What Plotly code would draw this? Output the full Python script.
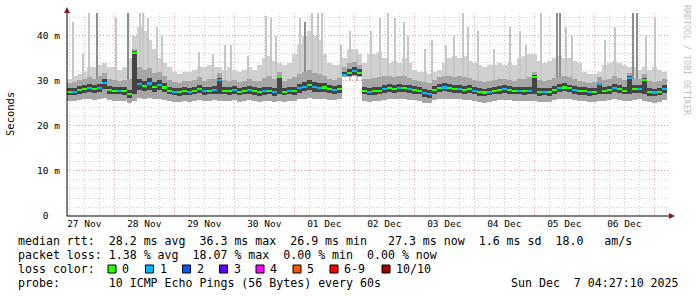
import plotly.graph_objects as go
from datetime import datetime, timedelta

# ---------------- data ----------------
START = datetime(2025, 11, 27, 5, 5)
END = datetime(2025, 12, 7, 5, 53)
STEP_H = 2  # hours per column

median = [27.6, 27.6, 28.1, 28.2, 28.5, 28.2, 28.4, 29.6, 28.0, 27.9,
          27.9, 27.8, 27.2, 36.3, 29.3, 29.0, 29.5, 28.8, 29.2, 28.6,
          27.9, 27.7, 27.6, 27.8, 27.7, 27.9, 28.3, 27.8, 27.9, 28.0,
          30.3, 27.9, 27.8, 28.0, 27.7, 27.9, 28.1, 27.8, 27.6, 27.8,
          27.9, 27.6, 30.9, 27.7, 27.9, 27.8, 28.4, 28.8, 29.2, 28.7,
          28.5, 28.6, 28.2, 28.1, 28.3, 31.3, 31.8, 32.2, 31.9, 27.9,
          27.7, 27.8, 27.9, 28.2, 28.4, 28.3, 28.5, 28.4, 28.2, 28.0,
          27.9, 27.4, 27.1, 28.0, 28.5, 28.6, 28.4, 28.2, 28.3, 28.1,
          28.2, 27.9, 27.6, 27.5, 27.7, 27.9, 28.1, 28.2, 28.0, 27.9,
          27.9, 27.8, 27.9, 31.0, 27.6, 27.7, 27.6, 28.0, 28.5, 28.6,
          28.4, 28.0, 27.8, 27.8, 27.6, 27.7, 29.3, 27.9, 28.0, 28.5,
          28.2, 27.9, 30.8, 28.2, 28.3, 30.3, 27.6, 27.5, 27.7, 28.3]

ping_max = [30.5, 31, 31.5, 32, 33, 33, 33.5, 34, 33, 33,
            32.5, 33, 35, 40, 42, 41, 39, 37, 35, 34,
            33, 32, 31.5, 32, 32, 32.5, 33, 33, 33.5, 33,
            33, 32.5, 33, 32.5, 32, 32.5, 33, 32.5, 33.5, 35,
            35.5, 34.5, 34, 33.5, 34, 36, 38, 40, 41, 40,
            39, 36, 34, 33.5, 33.5, 35, 37, 37, 36, 34,
            36, 36, 36.5, 35, 34, 34.5, 34, 35, 34, 32.5,
            32, 32, 31.5, 32, 32.5, 34, 35, 35.5, 35, 35.5,
            34.5, 34, 33.5, 33, 33.5, 33.5, 34, 33.5, 34, 33.5,
            35, 35.5, 36, 36, 34.5, 34, 34.5, 35, 35.5, 35,
            35, 34.5, 34, 32, 31.5, 31.5, 32, 33.5, 34, 34.5,
            34, 33.5, 33, 33, 32.5, 33, 32.5, 33, 32.5, 32]

ping_hi = [29.5, 29.8, 30.2, 30.4, 30.8, 30.5, 31.0, 31.8, 30.5, 30.2,
           30.0, 30.3, 30.5, 37.0, 33.0, 32.5, 32.8, 31.8, 32.0, 31.2,
           30.2, 29.8, 29.6, 30.0, 29.9, 30.3, 30.8, 30.0, 30.4, 30.5,
           31.8, 30.2, 30.0, 30.3, 29.8, 30.1, 30.5, 30.0, 30.0, 30.6,
           31.0, 30.4, 32.0, 30.0, 30.4, 30.8, 31.5, 32.0, 32.5, 31.8,
           31.5, 31.0, 30.5, 30.3, 30.6, 33.0, 34.0, 34.2, 33.5, 30.5,
           30.4, 30.6, 30.8, 31.0, 31.0, 30.8, 31.2, 31.0, 30.6, 30.2,
           30.0, 29.7, 29.5, 30.2, 30.8, 31.2, 31.0, 30.8, 31.0, 30.8,
           30.6, 30.3, 29.9, 29.8, 30.0, 30.2, 30.5, 30.4, 30.3, 30.1,
           30.4, 30.5, 30.8, 32.0, 30.2, 30.0, 30.2, 30.6, 31.0, 31.0,
           30.8, 30.4, 30.1, 29.8, 29.6, 29.8, 30.8, 30.3, 30.5, 31.0,
           30.6, 30.2, 31.8, 30.5, 30.5, 31.5, 29.9, 29.8, 30.0, 30.4]

ping_q_hi = [28.4, 28.5, 28.9, 29.0, 29.4, 29.1, 29.3, 30.4, 28.9, 28.7,
             28.7, 28.6, 28.0, 36.6, 30.5, 30.1, 30.6, 29.8, 30.2, 29.5,
             28.7, 28.5, 28.4, 28.6, 28.5, 28.7, 29.2, 28.6, 28.7, 28.8,
             30.6, 28.7, 28.6, 28.8, 28.5, 28.7, 28.9, 28.6, 28.4, 28.6,
             28.7, 28.4, 31.2, 28.5, 28.7, 28.7, 29.4, 29.8, 30.2, 29.7,
             29.5, 29.5, 29.0, 28.9, 29.1, 32.1, 32.6, 33.0, 32.7, 28.7,
             28.5, 28.6, 28.7, 29.0, 29.3, 29.1, 29.3, 29.2, 29.0, 28.8,
             28.7, 28.2, 27.9, 28.8, 29.3, 29.5, 29.3, 29.0, 29.2, 28.9,
             29.0, 28.7, 28.4, 28.3, 28.5, 28.7, 28.9, 29.0, 28.8, 28.7,
             28.7, 28.6, 28.7, 31.3, 28.4, 28.5, 28.4, 28.8, 29.4, 29.5,
             29.2, 28.8, 28.6, 28.6, 28.4, 28.5, 29.6, 28.7, 28.8, 29.3,
             29.0, 28.7, 31.1, 29.0, 29.1, 30.6, 28.4, 28.3, 28.5, 29.1]

ping_q_lo = [26.8, 26.8, 27.2, 27.3, 27.6, 27.3, 27.5, 28.2, 27.1, 27.0,
             27.0, 26.9, 26.3, 27.0, 28.0, 27.8, 28.1, 27.6, 27.9, 27.5,
             27.0, 26.8, 26.7, 26.9, 26.8, 27.0, 27.3, 26.9, 27.0, 27.1,
             27.1, 27.0, 26.9, 27.1, 26.8, 27.0, 27.2, 26.9, 26.7, 26.9,
             27.0, 26.7, 27.0, 26.8, 27.0, 26.9, 27.4, 27.7, 28.0, 27.6,
             27.5, 27.6, 27.3, 27.2, 27.4, 31.0, 31.1, 31.3, 31.1, 27.0,
             26.8, 26.9, 27.0, 27.3, 27.5, 27.4, 27.6, 27.5, 27.3, 27.1,
             27.0, 26.5, 26.2, 27.1, 27.6, 27.7, 27.5, 27.3, 27.4, 27.2,
             27.3, 27.0, 26.7, 26.6, 26.8, 27.0, 27.2, 27.3, 27.1, 27.0,
             27.0, 26.9, 27.0, 27.0, 26.7, 26.8, 26.7, 27.1, 27.6, 27.7,
             27.5, 27.1, 26.9, 26.9, 26.7, 26.8, 27.0, 27.0, 27.1, 27.6,
             27.3, 27.0, 27.0, 27.3, 27.4, 27.0, 26.7, 26.6, 26.8, 27.4]

ping_min = [25.6, 25.6, 25.8, 25.9, 26.0, 25.8, 25.9, 26.3, 25.7, 25.6,
            25.6, 25.5, 25.0, 25.6, 26.2, 26.0, 26.3, 25.9, 26.1, 25.8,
            25.6, 25.4, 25.3, 25.5, 25.4, 25.6, 25.8, 25.5, 25.6, 25.7,
            25.6, 25.6, 25.5, 25.7, 25.4, 25.6, 25.7, 25.5, 25.3, 25.5,
            25.6, 25.3, 25.5, 25.4, 25.6, 25.5, 25.9, 26.1, 26.3, 26.0,
            25.9, 26.0, 25.8, 25.7, 25.9, 30.8, 30.9, 31.0, 30.9, 25.6,
            25.4, 25.5, 25.6, 25.8, 26.0, 25.9, 26.0, 26.0, 25.8, 25.7,
            25.6, 25.2, 25.0, 25.7, 26.0, 26.1, 26.0, 25.9, 25.9, 25.8,
            25.8, 25.6, 25.3, 25.2, 25.4, 25.6, 25.7, 25.8, 25.7, 25.6,
            25.6, 25.5, 25.6, 25.6, 25.3, 25.4, 25.3, 25.7, 26.0, 26.1,
            26.0, 25.7, 25.5, 25.5, 25.3, 25.4, 25.6, 25.6, 25.7, 26.0,
            25.8, 25.6, 25.6, 25.8, 25.9, 25.6, 25.3, 25.2, 25.4, 25.8]

loss = [0, 1, 0, 0, 1, 0, 1, 1, 0, 0,
        1, 0, 0, 0, 1, 0, 1, 0, 1, 0,
        0, 1, 0, 0, 1, 0, 0, 1, 0, 1,
        1, 0, 0, 1, 0, 0, 1, 0, 0, 1,
        0, 1, 0, 0, 1, 0, 1, 1, 0, 1,
        1, 0, 0, 1, 0, 1, 0, 1, 0, 0,
        1, 0, 0, 1, 0, 0, 1, 0, 1, 0,
        0, 1, 1, 0, 0, 1, 0, 0, 1, 0,
        0, 1, 0, 0, 1, 0, 0, 1, 0, 0,
        1, 0, 1, 0, 0, 1, 0, 0, 1, 0,
        0, 1, 0, 0, 1, 0, 1, 0, 0, 1,
        0, 0, 1, 0, 1, 0, 0, 1, 0, 1]

# narrow outlier spikes: hours after START, top value (ms), shade
spike_hours = [2.4, 6.4, 8.8, 19.6, 29.2, 30.4, 32.4, 36.0, 38.0, 52.8, 58.4,
               63.2, 65.6, 72.4, 79.6, 81.6, 83.6, 93.2, 98.0, 100.4, 102.0,
               109.6, 113.2, 116.0, 121.6, 125.2, 128.4, 131.2, 134.8, 136.4,
               143.2, 146.0, 151.6, 154.8, 158.4, 160.4, 164.4, 170.8, 177.2,
               181.2, 183.6, 189.6, 199.6, 202.0, 215.2, 219.2, 231.6, 235.2,
               12.0, 24.4, 95.2, 196.0, 197.2, 226.4, 228.0]
spike_vals = [43, 36, 45, 44, 45, 45, 44, 42, 40, 36.5, 36,
              38, 38, 35.5, 44.5, 44, 40, 44, 45, 45, 45,
              38, 41, 37, 41, 44, 45, 44, 43, 40,
              37, 39, 38, 40, 45, 42, 41, 37, 42,
              41, 38, 45, 42, 40, 39, 42, 40, 44,
              45, 45, 43, 45, 45, 45, 45]
spike_kind = ["light"] * 48 + ["mid"] * 7

loss_labels = ["0", "1", "2", "3", "4", "5", "6-9", "10/10"]
loss_colors = ["#26ff00", "#00b8ff", "#0059ff", "#5e00ff", "#ff00ff",
               "#ff5500", "#ff0000", "#a10000"]

y_tick_vals = [0, 10, 20, 30, 40]
y_tick_text = ["0\u00a0\u00a0", "10 m", "20 m", "30 m", "40 m"]

legend_lines = [
    "median rtt:  28.2 ms avg  36.3 ms max  26.9 ms min   27.3 ms now  1.6 ms sd  18.0   am/s",
    "packet loss: 1.38 % avg  18.07 % max  0.00 % min  0.00 % now",
    "loss color:",
    "probe:       10 ICMP Echo Pings (56 Bytes) every 60s",
]
date_text = "Sun Dec  7 04:27:10 2025"

# ---------------- geometry helpers ----------------
W_PX, H_PX = 697, 297
L, R, T, B = 67, 28, 13, 81
PW = W_PX - L - R
PH = H_PX - T - B


def px(xp):
    return (xp - L) / PW


def py(yp):
    return (H_PX - B - yp) / PH


MONO = "DejaVu Sans Mono"

times = [START + timedelta(hours=STEP_H * i + STEP_H / 2) for i in range(len(median))]
col_w = STEP_H * 3600 * 1000

fig = go.Figure()


def band(bottom, top, color):
    fig.add_trace(go.Bar(
        x=times, base=bottom, y=[t - b for b, t in zip(bottom, top)],
        width=col_w, marker=dict(color=color, line_width=0),
        hoverinfo="skip", showlegend=False))


band(ping_min, ping_max, "#d0d0d0")

for kind, color in (("light", "#c6c6c6"), ("mid", "#8e8e8e")):
    xs = [START + timedelta(hours=h) for h, k in zip(spike_hours, spike_kind) if k == kind]
    vs = [v for v, k in zip(spike_vals, spike_kind) if k == kind]
    fig.add_trace(go.Bar(
        x=xs, base=[30] * len(vs), y=[v - 30 for v in vs], width=1700000,
        marker=dict(color=color, line_width=0), hoverinfo="skip", showlegend=False))

band(ping_min, ping_hi, "#a6a6a6")
band(ping_q_lo, ping_q_hi, "#444444")

fig.add_trace(go.Bar(
    x=times, base=[m - 0.18 for m in median], y=[0.36] * len(median), width=col_w,
    marker=dict(color=[loss_colors[l] for l in loss], line_width=0),
    hoverinfo="skip", showlegend=False))

grid_red = "rgba(225,110,110,0.55)"
grid_grey = "rgba(160,160,160,0.5)"
DOT = "1px,2px"

fig.update_layout(
    width=W_PX, height=H_PX,
    margin=dict(l=L, r=R, t=T, b=B, pad=0),
    paper_bgcolor="white", plot_bgcolor="white",
    barmode="overlay", bargap=0,
    font=dict(family=MONO, size=9.5, color="black"),
    xaxis=dict(
        type="date", range=[START, END],
        tick0="2025-11-28", dtick=86400000, ticklabelmode="period",
        tickformat="%d %b", ticks="", showline=False, zeroline=False,
        showgrid=True, gridcolor=grid_red, griddash=DOT, gridwidth=1,
        minor=dict(dtick=6 * 3600 * 1000, showgrid=True, gridcolor=grid_grey,
                   griddash=DOT, gridwidth=1),
        tickfont=dict(family=MONO, size=9.5), layer="above traces",
    ),
    yaxis=dict(
        range=[0, 45.1], tickvals=y_tick_vals, ticktext=y_tick_text,
        ticks="", showline=False, zeroline=False, ticklabelstandoff=6,
        showgrid=True, gridcolor=grid_red, griddash=DOT, gridwidth=1,
        minor=dict(dtick=2, showgrid=True, gridcolor=grid_grey,
                   griddash=DOT, gridwidth=1),
        tickfont=dict(family=MONO, size=9.5), layer="above traces",
    ),
)

# axes with arrow heads
shapes = [
    dict(type="line", xref="paper", yref="paper", x0=px(67), x1=px(67),
         y0=py(216), y1=py(9), line=dict(color="black", width=1)),
    dict(type="line", xref="paper", yref="paper", x0=px(67), x1=px(672),
         y0=py(216), y1=py(216), line=dict(color="black", width=1)),
    dict(type="path", xref="paper", yref="paper",
         path=f"M {px(64)} {py(13)} L {px(70)} {py(13)} L {px(67)} {py(7)} Z",
         fillcolor="#8b1a1a", line=dict(width=0)),
    dict(type="path", xref="paper", yref="paper",
         path=f"M {px(669)} {py(213)} L {px(669)} {py(219)} L {px(675)} {py(216)} Z",
         fillcolor="#8b1a1a", line=dict(width=0)),
]

annotations = []


def text_at(x, y, s, anchor="left", size=11.6, color="black", angle=0, family=MONO):
    annotations.append(dict(
        xref="paper", yref="paper", x=px(x), y=py(y), text=s.replace(" ", "\u00a0"),
        showarrow=False, xanchor=anchor, yanchor="middle", textangle=angle,
        font=dict(family=family, size=size, color=color)))


line_y = [241, 255, 269, 283]
for s, yy in zip(legend_lines, line_y):
    text_at(16, yy, s)
text_at(681, 283, date_text, anchor="right")

sq_x = [108, 145.5, 182.5, 219.5, 256, 293, 330, 382]
for xs, lab, col in zip(sq_x, loss_labels, loss_colors):
    shapes.append(dict(type="rect", xref="paper", yref="paper",
                       x0=px(xs), x1=px(xs + 8), y0=py(273), y1=py(265),
                       fillcolor=col, line=dict(color="black", width=1)))
    text_at(xs + 12, 269, lab)

# axis title and watermark
annotations.append(dict(xref="paper", yref="paper", x=px(10), y=py(114), text="Seconds",
                        showarrow=False, textangle=-90, xanchor="center", yanchor="middle",
                        font=dict(family=MONO, size=10.5, color="black")))
annotations.append(dict(xref="paper", yref="paper", x=px(687), y=py(60),
                        text="RRDTOOL / TOBI OETIKER".replace(" ", "\u00a0"),
                        showarrow=False, textangle=90, xanchor="center", yanchor="middle",
                        font=dict(family=MONO, size=8.3, color="#c0c0c0")))

fig.update_layout(shapes=shapes, annotations=annotations)
fig.write_html("out.html")
